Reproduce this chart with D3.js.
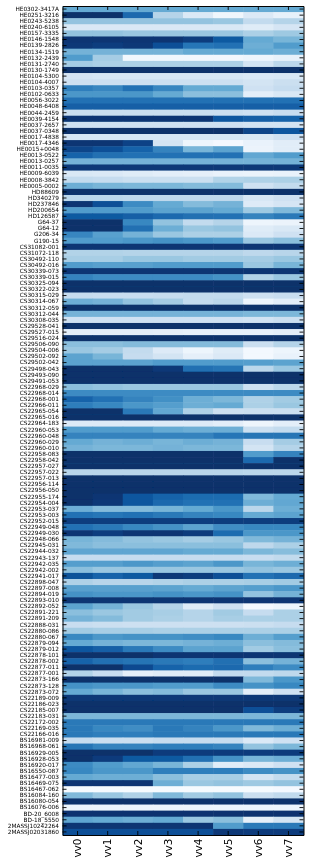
<!DOCTYPE html>
<html>
<head>
<meta charset="utf-8">
<script src="https://cdn.jsdelivr.net/npm/d3@7"></script>
<style>
  html, body { margin: 0; padding: 0; background: #fff; }
  svg { display: block; }
  text { font-family: "DejaVu Sans", sans-serif; fill: #000; }
</style>
</head>
<body>
<div id="chart"></div>
<script>
var lineNames = ["vv0", "vv1", "vv2", "vv3", "vv4", "vv5", "vv6", "vv7"];

var starNames = [
  "HE0302-3417A", "HE0251-3216", "HE0243-5238", "HE0240-6105", "HE0157-3335", "HE0146-1548", "HE0139-2826", "HE0134-1519",
  "HE0132-2439", "HE0131-2740", "HE0130-1749", "HE0104-5300", "HE0104-4007", "HE0103-0357", "HE0102-0633", "HE0056-3022",
  "HE0048-6408", "HE0044-2459", "HE0039-4154", "HE0037-2657", "HE0037-0348", "HE0017-4838", "HE0017-4346", "HE0015+0048",
  "HE0013-0522", "HE0013-0257", "HE0011-0035", "HE0009-6039", "HE0008-3842", "HE0005-0002", "HD88609", "HD340279",
  "HD237846", "HD200654", "HD126587", "G64-37", "G64-12", "G206-34", "G190-15", "CS31082-001",
  "CS31072-118", "CS30492-110", "CS30492-016", "CS30339-073", "CS30339-015", "CS30325-094", "CS30322-023", "CS30315-029",
  "CS30314-067", "CS30312-059", "CS30312-044", "CS30308-035", "CS29528-041", "CS29527-015", "CS29516-024", "CS29506-090",
  "CS29504-006", "CS29502-092", "CS29502-042", "CS29498-043", "CS29493-090", "CS29491-053", "CS22968-029", "CS22968-014",
  "CS22968-001", "CS22966-011", "CS22965-054", "CS22965-016", "CS22964-183", "CS22960-053", "CS22960-048", "CS22960-029",
  "CS22960-010", "CS22958-083", "CS22958-042", "CS22957-027", "CS22957-022", "CS22957-013", "CS22956-114", "CS22956-050",
  "CS22955-174", "CS22954-004", "CS22953-037", "CS22953-003", "CS22952-015", "CS22949-048", "CS22949-030", "CS22948-066",
  "CS22945-031", "CS22944-032", "CS22943-137", "CS22942-035", "CS22942-002", "CS22941-017", "CS22898-047", "CS22897-008",
  "CS22894-019", "CS22893-010", "CS22892-052", "CS22891-221", "CS22891-209", "CS22888-031", "CS22880-086", "CS22880-067",
  "CS22879-094", "CS22879-012", "CS22878-101", "CS22878-002", "CS22877-011", "CS22877-001", "CS22873-166", "CS22873-128",
  "CS22873-072", "CS22189-009", "CS22186-023", "CS22185-007", "CS22183-031", "CS22172-002", "CS22169-035", "CS22166-016",
  "BS16981-009", "BS16968-061", "BS16929-005", "BS16928-053", "BS16920-017", "BS16550-087", "BS16477-003", "BS16469-075",
  "BS16467-062", "BS16084-160", "BS16080-054", "BS16076-006", "BD-20_6008", "BD-18_5550", "2MASSJ10242264", "2MASSJ02031860"
];

// one row per star, one value per line (0 palest, 100 darkest)
var starValues = [
  [52,52,52,52,52,52,52,52], [100,100,78,30,14,4,14,8], [40,40,40,40,40,38,25,30], [15,15,15,15,15,15,12,17],
  [40,40,38,38,38,38,33,37], [98,98,98,98,95,84,52,47], [97,95,97,88,73,75,50,58], [48,48,48,48,52,52,52,50],
  [58,35,3,3,3,3,5,8], [35,33,33,33,33,33,18,28], [100,100,100,100,100,100,100,100], [17,16,16,16,16,16,14,15],
  [21,21,21,21,21,21,18,22], [70,67,75,67,52,52,20,24], [60,60,60,52,42,42,10,15], [75,75,75,75,75,75,75,75],
  [82,82,82,82,82,82,82,82], [22,22,22,22,22,22,20,23], [98,98,98,98,98,85,82,80], [20,20,20,20,20,20,18,18],
  [100,100,100,100,100,100,92,85], [16,16,16,16,16,16,15,20], [98,98,93,18,5,2,7,11], [92,88,80,68,47,55,6,11],
  [80,76,75,75,75,75,53,58], [48,48,48,48,48,48,48,48], [97,97,97,97,97,97,97,97], [15,14,12,10,9,7,6,7],
  [25,24,22,22,22,31,32,33], [50,47,46,46,44,44,20,25], [100,100,100,100,100,100,100,100], [28,28,27,27,27,27,16,20],
  [98,88,65,52,44,48,13,17], [58,58,58,55,55,52,37,45], [84,84,82,78,76,75,68,72], [100,100,66,40,25,30,5,6],
  [100,100,76,50,38,40,12,15], [67,56,48,38,33,33,14,20], [58,58,60,62,60,58,38,42], [98,98,98,98,98,98,98,98],
  [31,31,30,30,30,30,27,29], [34,34,38,38,36,36,35,38], [58,56,56,58,58,58,38,47], [98,98,98,98,98,98,98,98],
  [68,65,65,65,65,62,31,38], [100,100,100,100,100,100,100,100], [100,100,100,100,100,100,100,100], [24,23,23,24,25,25,21,23],
  [50,48,40,35,25,28,5,10], [100,100,100,100,100,100,100,100], [48,48,48,48,48,48,46,46], [20,20,20,20,20,20,19,22],
  [100,100,100,100,100,100,100,100], [10,10,10,9,8,8,8,10], [100,100,100,100,100,100,100,100], [42,42,44,44,44,44,22,30],
  [38,35,25,13,5,12,2,5], [55,47,24,18,9,14,2,7], [55,55,55,58,58,58,57,55], [100,100,100,97,76,74,28,38],
  [100,100,100,100,100,100,100,100], [100,100,100,100,100,100,100,100], [42,40,38,38,38,38,21,28], [65,65,65,65,65,65,65,65],
  [80,75,68,63,50,46,32,36], [70,66,60,57,50,52,33,38], [100,100,72,53,32,21,22,22], [100,100,100,100,100,100,100,100],
  [13,13,13,13,13,10,5,10], [58,58,58,52,50,50,22,25], [68,68,68,68,68,73,74,74], [52,48,50,47,50,48,23,35],
  [48,46,46,48,46,46,18,30], [100,100,100,100,100,100,58,68], [100,100,100,100,100,100,78,100], [100,100,100,100,100,100,100,100],
  [29,29,29,29,29,29,28,28], [100,100,100,100,100,100,100,100], [100,100,100,100,100,100,100,100], [100,100,100,100,100,100,100,100],
  [100,98,85,80,77,77,45,52], [100,97,85,78,75,75,50,53], [50,44,44,47,52,60,28,50], [75,73,75,72,68,66,52,55],
  [95,95,95,95,95,95,95,95], [75,72,66,62,55,64,66,66], [98,95,98,98,96,77,60,60], [47,44,40,38,35,38,45,48],
  [45,42,42,42,42,42,27,33], [54,54,54,54,52,52,46,43], [24,24,24,24,24,24,23,26], [57,57,60,57,55,60,47,50],
  [42,38,38,38,38,38,40,38], [87,80,84,97,95,88,75,78], [32,29,29,31,33,33,34,36], [56,56,56,55,52,55,57,60],
  [62,60,60,62,60,62,40,48], [98,98,98,98,98,98,98,98], [55,48,38,30,12,20,2,5], [42,38,36,34,30,36,24,33],
  [48,44,36,33,30,34,33,33], [23,22,21,21,21,21,22,24], [36,34,34,33,33,33,33,33], [66,60,62,62,64,66,50,57],
  [52,48,46,46,48,50,42,44], [85,82,72,65,55,55,36,42], [100,100,100,98,98,98,98,98], [80,76,74,72,70,76,42,48],
  [100,100,90,80,77,78,70,65], [31,23,9,12,12,25,25,27], [100,100,100,100,100,100,45,60], [62,60,60,58,58,65,62,66],
  [52,47,42,44,38,38,10,20], [97,97,97,97,97,97,97,97], [100,100,100,100,100,100,100,100], [100,100,100,100,100,100,88,95],
  [46,46,46,46,46,46,46,46], [72,72,72,72,72,72,72,72], [72,66,64,72,68,60,45,50], [72,70,70,72,72,72,72,72],
  [24,22,22,24,24,24,14,20], [74,68,68,70,70,68,40,46], [100,100,100,96,96,96,96,96], [100,96,84,84,76,62,47,50],
  [65,58,53,47,33,11,14,20], [66,60,60,70,70,70,65,62], [52,50,50,42,34,34,18,25], [98,98,98,50,38,40,37,40],
  [1,1,1,1,1,1,1,2], [45,38,32,45,36,40,22,26], [100,100,100,100,100,100,100,100], [5,5,5,5,5,5,5,5],
  [99,99,99,99,99,99,99,99], [54,52,50,52,38,42,9,18], [98,98,98,98,98,58,72,72], [88,88,88,88,88,97,96,96]
];

const margins = { top: 6, right: 6.5, bottom: 28, left: 62.5 };
const width = 310;
const height = 863;
const graphWidth = width - margins.left - margins.right;
const graphHeight = height - margins.top - margins.bottom;

const svg = d3
  .select("#chart")
  .append("svg")
  .attr("width", width)
  .attr("height", height);

// the original is a downscaled raster, so everything is a touch soft
svg
  .append("defs")
  .append("filter")
  .attr("id", "soft")
  .attr("filterUnits", "userSpaceOnUse")
  .attr("x", 0)
  .attr("y", 0)
  .attr("width", width)
  .attr("height", height)
  .append("feGaussianBlur")
  .attr("stdDeviation", 0.35);

const graph = svg
  .append("g")
  .attr("filter", "url(#soft)")
  .append("g")
  .attr("transform", `translate(${margins.left},${margins.top})`);

// scales
const x = d3.scaleBand().domain(lineNames).range([0, graphWidth]);
const y = d3.scaleBand().domain(starNames).range([0, graphHeight]);
const colour = d3.scaleSequential(d3.interpolateBlues).domain([0, 100]);

// cells, one row at a time
starNames.forEach(function(star, i) {
  graph
    .append("g")
    .selectAll("rect")
    .data(starValues[i])
    .enter()
    .append("rect")
    .attr("x", (d, j) => x(lineNames[j]))
    .attr("y", y(star))
    .attr("width", x.bandwidth() + 0.5)
    .attr("height", y.bandwidth() + 0.5)
    .attr("fill", d => colour(d));
});

// axes, ticks point inwards like the original
const leftAxis = d3.axisLeft(y).tickSizeInner(-4).tickSizeOuter(0).tickPadding(3.5);
const rightAxis = d3.axisRight(y).tickSizeInner(-4).tickSizeOuter(0).tickFormat("");
const topAxis = d3.axisTop(x).tickSizeInner(-4).tickSizeOuter(0).tickFormat("");
const bottomAxis = d3.axisBottom(x).tickSizeInner(-4).tickSizeOuter(0);

const yLeft = graph.append("g").call(leftAxis);
yLeft.selectAll("text").attr("font-size", "5.8px");

graph.append("g").attr("transform", `translate(${graphWidth},0)`).call(rightAxis);
graph.append("g").call(topAxis);

const xBottom = graph
  .append("g")
  .attr("transform", `translate(0,${graphHeight})`)
  .call(bottomAxis);

xBottom
  .selectAll("text")
  .attr("font-size", "10.5px")
  .attr("text-anchor", "end")
  .attr("dy", "0.35em")
  .attr("transform", "translate(0,3.5) rotate(-90)")
  .attr("x", 0)
  .attr("y", 0);

graph.selectAll(".domain").attr("stroke", "#000").attr("stroke-width", 1);
graph.selectAll(".tick line").attr("stroke", "#000").attr("stroke-width", 0.9);
graph.selectAll(".tick text").attr("font-family", '"DejaVu Sans", sans-serif');
</script>
</body>
</html>
